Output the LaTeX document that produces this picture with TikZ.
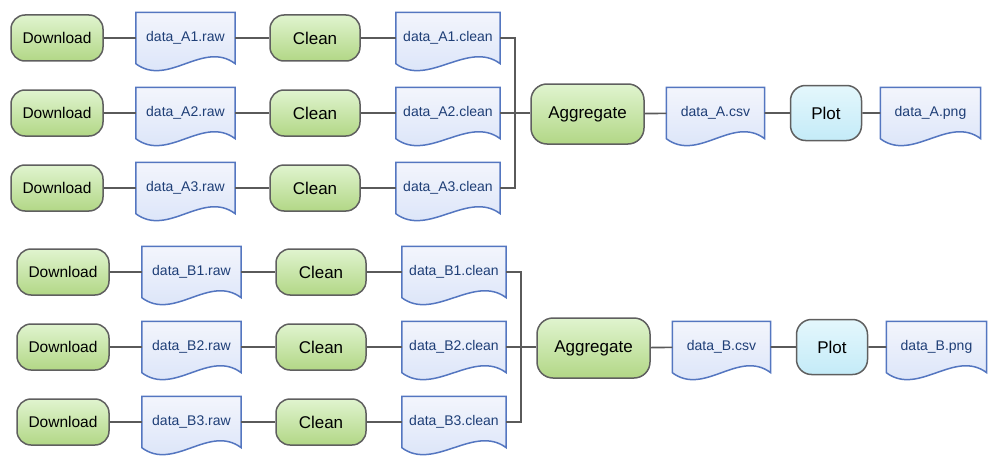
\documentclass[tikz,border=0pt]{standalone}
\usepackage{fontspec}
\setmainfont{Liberation Sans}
\usetikzlibrary{calc,backgrounds}
\definecolor{procT}{RGB}{224,244,207}
\definecolor{procB}{RGB}{178,215,134}
\definecolor{procline}{RGB}{95,95,95}
\definecolor{plotT}{RGB}{228,247,252}
\definecolor{plotB}{RGB}{196,235,248}
\definecolor{docT}{RGB}{243,245,252}
\definecolor{docB}{RGB}{214,225,248}
\definecolor{docborder}{RGB}{84,118,192}
\definecolor{doctext}{RGB}{30,62,118}
\definecolor{linkgrey}{RGB}{90,90,90}
\tikzset{
  proc/.style={draw=procline,line width=1.5pt,rounded corners=14pt,top color=procT,bottom color=procB,
    minimum width=92pt,minimum height=46pt,inner sep=0pt,font=\fontsize{15.5}{18}\selectfont},
  plotbox/.style={proc,top color=plotT,bottom color=plotB,minimum width=71pt,minimum height=55pt,
    rounded corners=15pt,font=\fontsize{17}{20}\selectfont},
  docbox/.style={minimum width=99pt,minimum height=51pt,inner sep=0pt,text=doctext,
    font=\fontsize{14}{16}\selectfont},
  docline/.style={draw=docborder,line width=1.5pt,top color=docT,bottom color=docB},
  link/.style={draw=linkgrey,line width=1.6pt},
}
% wavy document outline, drawn behind the node text
\newcommand\docoutline[1]{%
  \begin{pgfonlayer}{background}
  \path[docline] (#1.north west) -- (#1.north east) -- (#1.south east)
    .. controls ($(#1.south east)+(-32,-24)$) and ($(#1.south west)+(32,24)$) .. (#1.south west) -- cycle;
  \end{pgfonlayer}}
\begin{document}
\begin{tikzpicture}[x=1pt,y=-1pt]
\useasboundingbox (0,0) rectangle (995,460);
\foreach \g/\dx/\ytop in {A/0/38,B/6/272}{
  \foreach \r in {1,2,3}{
    \pgfmathsetmacro\yy{\ytop+75*(\r-1)}
    \node[proc] (dl\g\r) at (57+\dx,\yy) {Download};
    \node[docbox] (raw\g\r) at (185.5+\dx,\yy) {data\_\g\r.raw};
    \node[proc,minimum width=90pt,font=\fontsize{17}{20}\selectfont] (cl\g\r) at (315+\dx,\yy) {Clean};
    \node[docbox,minimum width=104pt] (cd\g\r) at (448+\dx,\yy) {data\_\g\r.clean};
    \docoutline{raw\g\r}
    \docoutline{cd\g\r}
    \draw[link] (dl\g\r) -- (raw\g\r) (raw\g\r) -- (cl\g\r) (cl\g\r) -- (cd\g\r);
  }
  \pgfmathsetmacro\ymid{\ytop+75}
  \node[proc,minimum width=113pt,minimum height=60pt,rounded corners=16pt,
    font=\fontsize{17}{20}\selectfont] (ag\g) at (587.5+\dx,\ymid+1) {Aggregate};
  \coordinate (j\g) at (515+\dx,\ymid);
  \node[docbox,minimum width=98pt] (csv\g) at (715.5+\dx,\ymid) {data\_\g.csv};
  \node[plotbox] (pl\g) at (826+\dx,\ymid) {Plot};
  \node[docbox,minimum width=100pt] (png\g) at (930.5+\dx,\ymid) {data\_\g.png};
  \docoutline{csv\g}
  \docoutline{png\g}
  \draw[link] (cd\g1) -| (j\g) |- (cd\g3);
  \draw[link] (cd\g2) -- (j\g) -- (j\g -| ag\g.west);
  \draw[link] (ag\g) -- (csv\g) (csv\g) -- (pl\g) (pl\g) -- (png\g);
}
\end{tikzpicture}
\end{document}
